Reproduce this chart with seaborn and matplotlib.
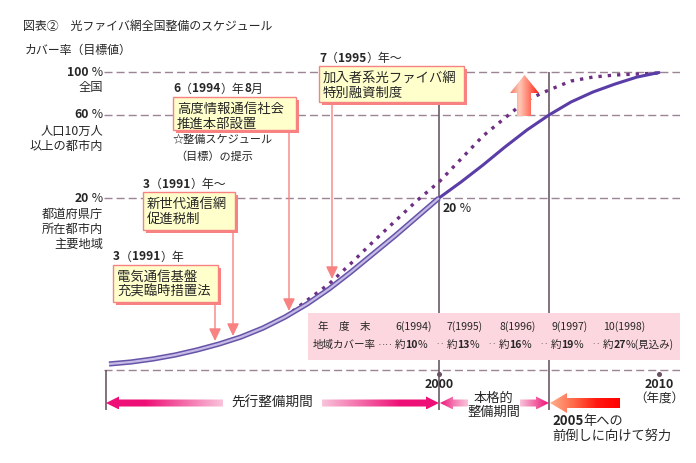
import re

import numpy as np
import pandas as pd
import seaborn as sns
import matplotlib.pyplot as plt
from matplotlib.patches import Polygon, Rectangle
from matplotlib.colors import LinearSegmentedColormap

# Coverage targets (%)
years = list(range(1985, 2011))
plan_pct = [0.7, 0.93, 1.28, 1.74, 2.33, 3.02, 3.84, 4.88, 6.16, 7.67, 9.42, 11.4,
            13.5, 15.6, 17.8, 20.0, 27.7, 35.9, 44.6, 52.8, 60.0, 72.1, 81.4,
            88.8, 95.3, 99.5]
accel_years = list(range(1993, 2011))
accel_pct = [6.16, 8.1, 10.0, 12.4, 14.9, 17.3, 19.7, 27.7, 38.8, 49.9, 58.6,
             74.0, 83.3, 91.6, 95.3, 97.2, 98.1, 99.1]

ytick_vals = [100, 60, 20]
ytick_notes = [['全国'], ['人口10万人', '以上の都市内'], ['都道府県庁', '所在都市内', '主要地域']]
xtick_years = [2000, 2010]
phase_years = [2000, 2005]

callout_head = ['3（1991）年', '3（1991）年〜', '6（1994）年8月', '7（1995）年〜']
callout_body = [['電気通信基盤', '充実臨時措置法'], ['新世代通信網', '促進税制'],
                ['高度情報通信社会', '推進本部設置'], ['加入者系光ファイバ網', '特別融資制度']]

table_fy = [6, 7, 8, 9, 10]
table_year = [1994, 1995, 1996, 1997, 1998]
table_cover = [10, 13, 16, 19, 27]

FONT = ['Noto Sans CJK JP', 'DejaVu Sans']
GRID = '#9c8494'
VLINE = '#5e4c58'
SALMON = '#f88282'

sns.set_theme(style='white')
plt.rcParams['font.family'] = FONT

# piecewise scale: the chart's y axis is schematic, not linear
PCT_KNOTS = [-20, 0, 20, 60, 100, 130]
H_KNOTS = [-172, 0, 172, 255, 298, 330.25]


def fwd(v):
    return np.interp(v, PCT_KNOTS, H_KNOTS)


def inv(h):
    return np.interp(h, H_KNOTS, PCT_KNOTS)


def runs(s):
    # digits bold, the rest normal
    return [(p, 'bold' if p.isdigit() else 'normal') for p in re.findall(r'\d+|\D+', s)]


def rich(ax, xy, parts, size, ha='left', xycoords='data', offset=(0, 0)):
    seq = parts if ha == 'left' else parts[::-1]
    anchor = (1, 0) if ha == 'left' else (0, 0)
    art = ax.annotate(seq[0][0], xy=xy, xycoords=xycoords, xytext=offset,
                      textcoords='offset pixels', ha=ha, va='center',
                      fontsize=size, fontweight=seq[0][1], family=FONT)
    for text, w in seq[1:]:
        art = ax.annotate(text, xy=anchor, xycoords=art, ha=ha, va='bottom',
                          fontsize=size, fontweight=w, family=FONT)
    return art


def grad_patch(ax, verts, colors):
    poly = Polygon(verts, closed=True, facecolor='none', edgecolor='none')
    ax.add_patch(poly)
    xs, ys = zip(*verts)
    cmap = LinearSegmentedColormap.from_list('g', colors)
    im = ax.imshow(np.linspace(0, 1, 256)[None, :], cmap=cmap, aspect='auto',
                   extent=(min(xs), max(xs), max(ys), min(ys)),
                   interpolation='bilinear', zorder=2)
    im.set_clip_path(poly)


def harrow(ax, tail, tip, y, colors, sh=3.5, hh=6.5, hl=13):
    d = 1 if tip > tail else -1
    b = tip - d * hl
    verts = [(tail, y - sh), (b, y - sh), (b, y - hh), (tip, y),
             (b, y + hh), (b, y + sh), (tail, y + sh)]
    grad_patch(ax, verts, colors)


fig = plt.figure(figsize=(6.96, 4.63), dpi=100)
W, H = 696, 463

# main chart axes
ax = fig.add_axes([104 / W, 1 - 412 / H, (680 - 104) / W, (412 - 60) / H])
ax.set_yscale('function', functions=(fwd, inv))

plan = pd.DataFrame({'year': years, 'pct': plan_pct})
accel = pd.DataFrame({'year': accel_years, 'pct': accel_pct})
pre = plan[plan.year <= 2000]
post = plan[plan.year >= 2000]

for v in [0] + ytick_vals:
    ax.axhline(v, color=GRID, lw=1.0, ls=(0, (5.8, 2.9)), zorder=1)

ybot = inv(-40)
ax.vlines(phase_years, ybot, 100, color=VLINE, lw=1.1, zorder=1)
ax.vlines(2000 - (439 - 106) / 22, ybot, 0, color=VLINE, lw=1.1, zorder=1, clip_on=False)

sns.lineplot(data=accel, x='year', y='pct', ax=ax, color='#6e2f84', linewidth=2.4,
             linestyle=(0, (1, 1.8)), zorder=3)
sns.lineplot(data=pre, x='year', y='pct', ax=ax, color='#6654a8', linewidth=3.8,
             solid_capstyle='butt', zorder=4)
sns.lineplot(data=pre, x='year', y='pct', ax=ax, color='#c6bae6', linewidth=1.6,
             solid_capstyle='butt', zorder=5)
sns.lineplot(data=post, x='year', y='pct', ax=ax, color='#5a3da6', linewidth=2.2,
             solid_capstyle='round', zorder=4)
ax.plot(xtick_years, [-0.5] * len(xtick_years), 'o', ms=2.6, color='#6a5060', zorder=2)

ax.set_xlim(2000 - (439 - 104) / 22, 2000 + (680 - 439) / 22)
ax.set_ylim(inv(-42), inv(310))
ax.set_axis_off()

# y labels
for v, notes in zip(ytick_vals, ytick_notes):
    rich(ax, (0, v), [(str(v), 'bold'), (' %', 'normal')], 8.8, ha='right',
         xycoords=('axes fraction', 'data'), offset=(-1, 0))
    for i, line in enumerate(notes):
        ax.annotate(line, xy=(0, v), xycoords=('axes fraction', 'data'),
                    xytext=(-1, -16 - 15 * i), textcoords='offset pixels',
                    ha='right', va='center', fontsize=8.8)
rich(ax, (2000, 20), [('20', 'bold'), (' %', 'normal')], 8.8, offset=(4, -10))

for yr in xtick_years:
    ax.annotate(str(yr), xy=(yr, 0), xytext=(0, -15), textcoords='offset pixels',
                ha='center', va='center', fontsize=9, fontweight='bold')
ax.annotate('（年度）', xy=(xtick_years[-1], 0), xytext=(0, -29),
            textcoords='offset pixels', ha='center', va='center', fontsize=9)

# overlay in pixel coordinates for the schematic decorations
ov = fig.add_axes([0, 0, 1, 1], zorder=3)
ov.patch.set_alpha(0)

ov.text(23, 26, '図表②　光ファイバ網全国整備のスケジュール', fontsize=8.6, va='center')
ov.text(25, 50, 'カバー率（目標値）', fontsize=8.6, va='center')

# callout boxes: left, top, right, bottom, leader x, arrow tip y
boxes = [(113, 265, 218, 302, 215, 341), (143, 192, 235, 230, 233, 336),
         (173, 97, 296, 130, 289, 311), (319, 66, 464, 102, 332, 279)]
for (l, t, r, b, lx, tip), head, body in zip(boxes, callout_head, callout_body):
    ov.annotate('', xy=(lx, tip), xytext=(lx, b + 2),
                arrowprops=dict(arrowstyle='-|>,head_length=0.75,head_width=0.36',
                                color=SALMON, lw=1.0, shrinkA=0, shrinkB=0,
                                mutation_scale=10), zorder=4)
    ov.add_patch(Rectangle((l + 3, t + 3), r - l, b - t, facecolor=SALMON,
                           edgecolor='none', zorder=5))
    ov.add_patch(Rectangle((l, t), r - l, b - t, facecolor='#ffffcc',
                           edgecolor=SALMON, lw=1.0, zorder=6))
    rich(ov, (l, t - 8), runs(head), 8.6)
    for i, line in enumerate(body):
        ov.text(l + 4, t + 11.5 + 15.5 * i, line, fontsize=9.6, va='center', zorder=7)

ov.text(173, 140, '☆整備スケジュール', fontsize=8, va='center')
ov.text(175, 156, '（目標）の提示', fontsize=8, va='center')

# up arrow
grad_patch(ov, [(517, 116), (517, 93), (510, 93), (524.5, 75), (539, 93),
                (531, 93), (531, 116)],
           ['#f27a68', '#ffc8b6', '#ff7a68', '#ff1c10'])

# coverage table
ov.add_patch(Rectangle((308, 313), 372, 47, facecolor='#fdd7df', edgecolor='none', zorder=1))
ov.text(318, 327, '年　度　末', fontsize=7.6, va='center', zorder=3)
ov.text(313, 345, '地域カバー率', fontsize=7.6, va='center', zorder=3)
ov.text(378, 345, '‥‥', fontsize=5.5, va='center', zorder=3)
for i, (fy, yr, cov) in enumerate(zip(table_fy, table_year, table_cover)):
    cx = 395 + 52 * i
    ov.text(cx, 327, f'{fy}({yr})', fontsize=7.6, va='center', zorder=3)
    tail = '%(見込み)' if i == len(table_cover) - 1 else '%'
    rich(ov, (cx, 345), [('約', 'normal'), (str(cov), 'bold'), (tail, 'normal')], 7.6)
    if i < len(table_cover) - 1:
        ov.text(cx + 40, 345, '‥', fontsize=6, va='center', zorder=3)

# period arrows
DEEP, LIGHT = '#ee0f77', '#f9c4dc'
harrow(ov, 223, 106, 403, [DEEP, DEEP, '#f36aa8', LIGHT])
harrow(ov, 322, 439, 403, [LIGHT, '#f36aa8', DEEP, DEEP])
harrow(ov, 468, 440, 403, [DEEP, '#f47ab2', LIGHT])
harrow(ov, 520, 549, 403, [LIGHT, '#f26aa6', DEEP])
harrow(ov, 620, 550, 403, ['#ffb090', '#ff6a48', '#ff1a10', '#ff0000'], sh=5, hh=10, hl=17)

ov.text(272, 403, '先行整備期間', fontsize=9.8, ha='center', va='center')
ov.text(493, 398, '本格的', fontsize=9.5, ha='center', va='center')
ov.text(494, 412, '整備期間', fontsize=9.5, ha='center', va='center')
rich(ov, (552, 421), [('2005', 'bold'), ('年への', 'normal')], 9.5)
ov.text(552, 437.5, '前倒しに向けて努力', fontsize=9.5, va='center')

ov.set_xlim(0, W)
ov.set_ylim(H, 0)
ov.set_aspect('auto')
ov.set_axis_off()

plt.savefig('out.png', dpi=100)
